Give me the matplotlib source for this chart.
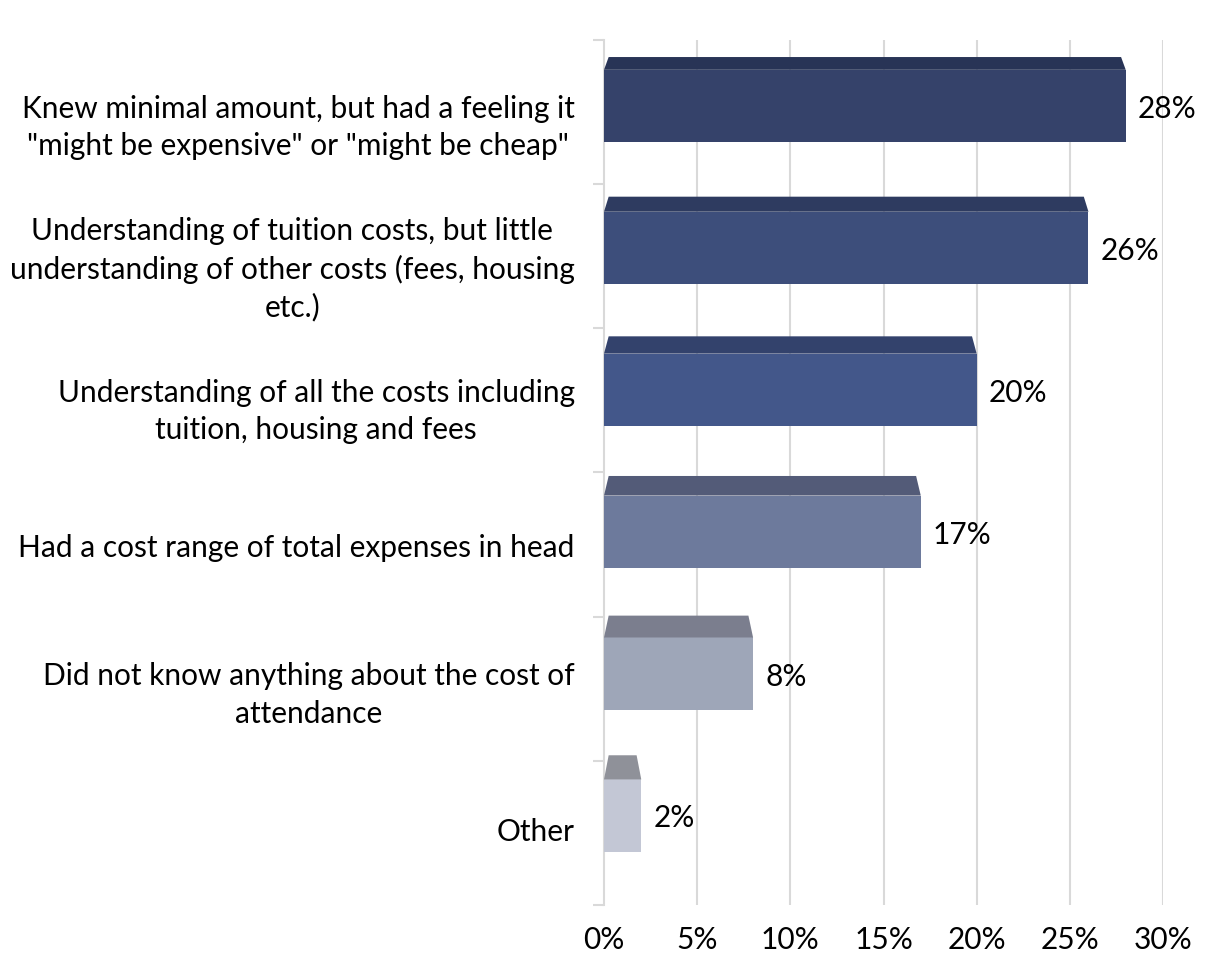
import numpy as np
import matplotlib
matplotlib.use("Agg")
import matplotlib.pyplot as plt
from matplotlib.patches import Polygon

plt.rcParams['font.family'] = ['Lato', 'DejaVu Sans']

# survey answers, top to bottom
answers = [
    'Knew minimal amount, but had a feeling it\n"might be expensive" or "might be cheap"',
    'Understanding of tuition costs, but little\nunderstanding of other costs (fees, housing\netc.)',
    'Understanding of all the costs including\ntuition, housing and fees',
    'Had a cost range of total expenses in head',
    'Did not know anything about the cost of\nattendance',
    'Other',
]
share = [28, 26, 20, 17, 8, 2]
x_ticks = [0, 5, 10, 15, 20, 25, 30]

front_colors = ['#35426a', '#3d4e7b', '#43578a', '#6d7a9c', '#9ea6b8', '#c3c7d5']
top_colors = ['#283456', '#2e3b60', '#33426c', '#535b78', '#7b7e8e', '#8f9199']

fig = plt.figure(figsize=(12.17, 9.55), dpi=100)
ax = fig.add_axes([604 / 1217, 1 - 905 / 955, (1163 - 604) / 1217, (905 - 40) / 955])

n = len(share)
pos = np.arange(n)
ax.set_xlim(0, 30)
ax.set_ylim(5.63, -0.465)

# vertical gridlines
for v in x_ticks[1:]:
    ax.axvline(v, color='#d9d9d9', lw=1.5, zorder=0)

h = 0.51
for i, v in enumerate(share):
    ax.barh(i, v, height=h, color=front_colors[i], edgecolor='none', zorder=3)
    # top face of the box, deeper further down the chart
    d = 0.09 + 0.016 * i
    inset = 0.25
    top = i - h / 2
    ax.add_patch(Polygon([(0, top), (v, top), (v - inset, top - d), (inset, top - d)],
                         closed=True, facecolor=top_colors[i], edgecolor='none', zorder=3))
    ax.text(v + 0.65, i + 0.02, f'{v}%', va='center', ha='left', fontsize=21.5, color='black')

ax.set_xticks(x_ticks)
ax.set_xticklabels([f'{t}%' for t in x_ticks], fontsize=21.5)
ax.tick_params(axis='x', length=0, pad=15)

ax.set_yticks(pos + 0.1)
ax.set_yticklabels(answers, fontsize=21.5)
for lbl in ax.get_yticklabels():
    lbl.set_multialignment('center')
    lbl.set_linespacing(1.4)
ax.tick_params(axis='y', length=0, pad=21)
ax.set_yticks(np.linspace(-0.465, 5.63, 7), minor=True)
ax.tick_params(axis='y', which='minor', length=8, color='#d9d9d9', width=1.5)

for s in ['top', 'right', 'bottom']:
    ax.spines[s].set_visible(False)
ax.spines['left'].set_color('#d9d9d9')
ax.spines['left'].set_linewidth(1.5)

fig.savefig('out.png', dpi=100)
